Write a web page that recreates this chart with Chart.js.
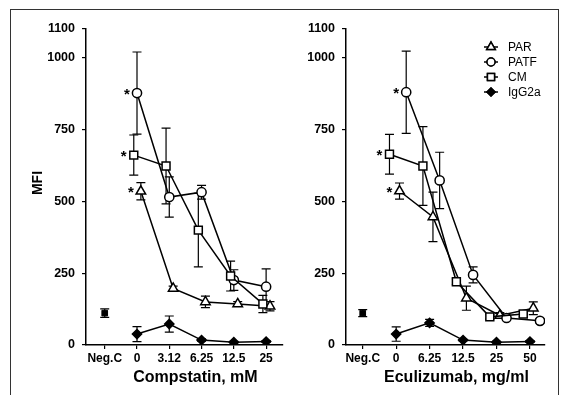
<!DOCTYPE html>
<html>
<head>
<meta charset="utf-8">
<script src="https://cdn.jsdelivr.net/npm/chart.js@4.4.1/dist/chart.umd.min.js"></script>
<style>
  html, body { margin: 0; padding: 0; background: #fff; }
  body { width: 561px; height: 395px; position: relative; overflow: hidden; }
  canvas { position: absolute; top: 0; }
  #leftChart { left: 0; }
  #rightChart { left: 290px; }
  .frame { position: absolute; left: 10px; top: 9px; width: 547px; height: 400px; border: 1px solid #333; }
</style>
</head>
<body>
<div class="frame"></div>
<canvas id="leftChart" width="290" height="395"></canvas>
<canvas id="rightChart" width="271" height="395"></canvas>
<script>
// categories / ticks
const leftLabels = ['Neg.C', '0', '3.12', '6.25', '12.5', '25'];
const rightLabels = ['Neg.C', '0', '6.25', '12.5', '25', '50'];
const yTicks = [0, 250, 500, 750, 1000, 1100];
const seriesNames = ['PAR', 'PATF', 'CM', 'IgG2a'];
const starred = ['PAR', 'PATF', 'CM'];

// Compstatin panel (doses 0 .. 25)
const compPAR = [535, 197, 150, 143, 135];
const compPARErr = [30, 8, 20, 8, 16];
const compPATF = [877, 515, 532, 226, 203];
const compPATFErr = [143, 70, 24, 36, 62];
const compCM = [661, 623, 400, 240, 143];
const compCMErr = [70, 132, 128, 52, 30];
const compIgG = [38, 73, 17, 10, 12];
const compIgGErr = [26, 28, 4, 3, 3];
const compNeg = [111];
const compNegErr = [15];

// Eculizumab panel (doses 0 .. 50)
const eculPAR = [536, 446, 163, 103, 128];
const eculPARErr = [28, 86, 42, 10, 22];
const eculPATF = [880, 573, 244, 94, 84];
const eculPATFErr = [143, 98, 28, 8, 8];
const eculCM = [664, 623, 220, 98, 108];
const eculCMErr = [69, 137, 10, 8, 10];
const eculIgG = [38, 77, 17, 10, 12];
const eculIgGErr = [25, 12, 3, 3, 3];
const eculNeg = [111];
const eculNegErr = [12];

Chart.defaults.font.family = '"Liberation Sans", Arial, sans-serif';
Chart.defaults.color = '#000';

const styles = {
  PAR:   { pointStyle: 'triangle', radius: 5.5, fill: '#fff' },
  PATF:  { pointStyle: 'circle',   radius: 4.6, fill: '#fff' },
  CM:    { pointStyle: 'rect',     radius: 5.6, fill: '#fff' },
  IgG2a: { pointStyle: 'rectRot',  radius: 4.6, fill: '#000' }
};

function series(name, values, errs, offset) {
  const st = styles[name];
  return {
    label: name,
    data: values.map((v, i) => ({ x: i + 1 + offset, y: v })),
    errors: errs,
    borderColor: '#000',
    borderWidth: 1.5,
    pointStyle: st.pointStyle,
    pointRadius: st.radius,
    pointBackgroundColor: st.fill,
    pointBorderColor: '#000',
    pointBorderWidth: 1.5,
    showLine: true,
    starred: starred.includes(name)
  };
}

function negSeries(values, errs) {
  return {
    label: 'Neg.C',
    data: values.map(v => ({ x: 0, y: v })),
    errors: errs,
    showLine: false,
    pointStyle: 'rect',
    pointRadius: 4,
    pointBackgroundColor: '#000',
    pointBorderColor: '#000',
    pointBorderWidth: 1
  };
}

// error bars, stars, titles, legend
const extrasPlugin = {
  id: 'extras',
  beforeDatasetsDraw(chart) {
    const ctx = chart.ctx;
    const ys = chart.scales.y;
    ctx.save();
    ctx.strokeStyle = '#000';
    ctx.lineWidth = 1.2;
    chart.data.datasets.forEach((ds, di) => {
      const meta = chart.getDatasetMeta(di);
      meta.data.forEach((pt, i) => {
        const e = ds.errors[i];
        const v = ds.data[i].y;
        const top = ys.getPixelForValue(v + e);
        const bot = ys.getPixelForValue(v - e);
        const cw = 4.5;
        ctx.beginPath();
        ctx.moveTo(pt.x, top); ctx.lineTo(pt.x, bot);
        ctx.moveTo(pt.x - cw, top); ctx.lineTo(pt.x + cw, top);
        ctx.moveTo(pt.x - cw, bot); ctx.lineTo(pt.x + cw, bot);
        ctx.stroke();
      });
    });
    ctx.restore();
  },
  afterDraw(chart) {
    const ctx = chart.ctx;
    const opts = chart.options.plugins.extras;
    const area = chart.chartArea;
    ctx.save();
    ctx.fillStyle = '#000';
    // stars next to the first dose
    ctx.font = 'bold 15px "Liberation Sans", Arial';
    ctx.textAlign = 'center';
    ctx.textBaseline = 'middle';
    chart.data.datasets.forEach((ds, di) => {
      if (!ds.starred) return;
      const pt = chart.getDatasetMeta(di).data[0];
      ctx.fillText('*', pt.x - 10, pt.y + 2);
    });
    // x title
    ctx.font = 'bold 16px "Liberation Sans", Arial';
    ctx.fillText(opts.xTitle, (area.left + area.right) / 2 + 11, 378);
    // y title
    if (opts.yTitle) {
      ctx.save();
      ctx.translate(38, 183);
      ctx.rotate(-Math.PI / 2);
      ctx.font = 'bold 14px "Liberation Sans", Arial';
      ctx.fillText(opts.yTitle, 0, 0);
      ctx.restore();
    }
    // legend
    if (opts.legend) {
      const lx = 491 - 290, ly = 47;
      ctx.font = '12px "Liberation Sans", Arial';
      ctx.textAlign = 'left';
      seriesNames.forEach((name, i) => {
        const st = styles[name];
        const y = ly + i * 15;
        ctx.strokeStyle = '#000';
        ctx.lineWidth = 1.5;
        ctx.beginPath();
        ctx.moveTo(lx - 7, y); ctx.lineTo(lx + 7, y);
        ctx.stroke();
        ctx.fillStyle = st.fill;
        Chart.helpers.drawPoint(ctx, { pointStyle: st.pointStyle, radius: st.radius - 0.6, borderWidth: 1.5 }, lx, y);
        ctx.fill();
        ctx.stroke();
        ctx.fillStyle = '#000';
        ctx.fillText(name, lx + 17, y + 1);
      });
    }
    ctx.restore();
  }
};

function makeChart(id, labels, datasets, xMin, xMax, yWidth, padRight, extras) {
  return new Chart(document.getElementById(id), {
    type: 'scatter',
    data: { datasets: datasets },
    plugins: [extrasPlugin],
    options: {
      responsive: false,
      animation: false,
      layout: { padding: { top: 29, left: 0, right: padRight, bottom: 0 } },
      plugins: { legend: { display: false }, tooltip: { enabled: false }, extras: extras },
      scales: {
        x: {
          type: 'linear', min: xMin, max: xMax,
          afterBuildTicks: s => { s.ticks = labels.map((_, i) => ({ value: i })); },
          afterFit: s => { s.height = 50; },
          ticks: { callback: v => labels[v], font: { size: 12, weight: 'bold' }, padding: 2, maxRotation: 0, autoSkip: false },
          grid: { drawOnChartArea: false, tickLength: 4, color: '#000', lineWidth: 1.2 },
          border: { color: '#000', width: 1.5 }
        },
        y: {
          min: 0, max: 1100,
          afterBuildTicks: s => { s.ticks = yTicks.map(v => ({ value: v })); },
          afterFit: s => { s.width = yWidth; },
          ticks: { callback: v => String(v), font: { size: 12.5, weight: 'bold' }, padding: 7 },
          grid: { drawOnChartArea: false, tickLength: 4, color: '#000', lineWidth: 1.2 },
          border: { color: '#000', width: 1.5 }
        }
      }
    }
  });
}

makeChart('leftChart', leftLabels, [
  negSeries(compNeg, compNegErr),
  series('IgG2a', compIgG, compIgGErr, 0),
  series('CM', compCM, compCMErr, -0.1),
  series('PATF', compPATF, compPATFErr, 0),
  series('PAR', compPAR, compPARErr, 0.12)
], -0.58, 5.52, 86, 3, { xTitle: 'Compstatin, mM', yTitle: 'MFI', legend: false });

makeChart('rightChart', rightLabels, [
  negSeries(eculNeg, eculNegErr),
  series('IgG2a', eculIgG, eculIgGErr, 0),
  series('CM', eculCM, eculCMErr, -0.2),
  series('PATF', eculPATF, eculPATFErr, 0.3),
  series('PAR', eculPAR, eculPARErr, 0.1)
], -0.5, 5.45, 56, 16, { xTitle: 'Eculizumab, mg/ml', yTitle: '', legend: true });
</script>
</body>
</html>
